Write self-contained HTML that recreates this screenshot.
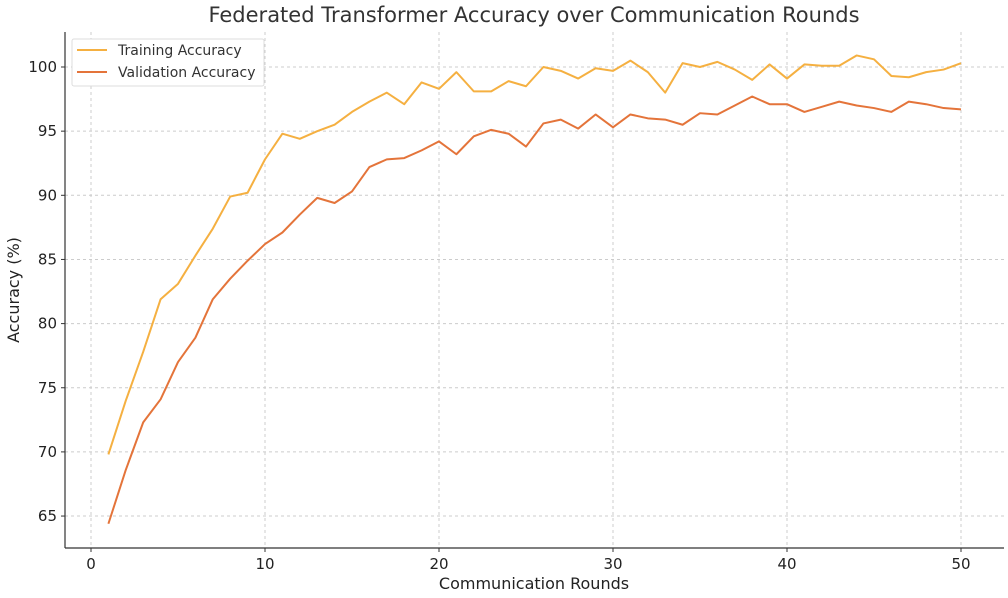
<!DOCTYPE html>
<html><head><meta charset="utf-8"><style>
body{margin:0;background:#fff;}
svg{display:block;font-family:"DejaVu Sans","Liberation Sans",sans-serif;}
</style></head><body>
<svg id="chart" width="1008" height="598" xmlns="http://www.w3.org/2000/svg">
<text x="534" y="22" text-anchor="middle" font-size="21" fill="#333">Federated Transformer Accuracy over Communication Rounds</text>
<g id="grid"></g>
<g id="axes"></g>
<g id="series"></g>
<text x="534" y="589" text-anchor="middle" font-size="16" fill="#222">Communication Rounds</text>
<text transform="translate(19,290) rotate(-90)" text-anchor="middle" font-size="16" fill="#222">Accuracy (%)</text>
<g>
<rect x="72" y="39" width="192" height="47" fill="#fff" stroke="#ddd" rx="2"/>
<line x1="77" y1="50" x2="107" y2="50" stroke="#F5B041" stroke-width="2"/>
<text x="118" y="55" font-size="14" fill="#333">Training Accuracy</text>
<line x1="77" y1="72" x2="107" y2="72" stroke="#E4743A" stroke-width="2"/>
<text x="118" y="77" font-size="14" fill="#333">Validation Accuracy</text>
</g>
</svg>
<script>
const rounds = Array.from({length:50},(_,i)=>i+1);
const training = [69.8,74.0,77.8,81.9,83.1,85.3,87.4,89.9,90.2,92.8,94.8,94.4,95.0,95.5,96.5,97.3,98.0,97.1,98.8,98.3,99.6,98.1,98.1,98.9,98.5,100.0,99.7,99.1,99.9,99.7,100.5,99.6,98.0,100.3,100.0,100.4,99.8,99.0,100.2,99.1,100.2,100.1,100.1,100.9,100.6,99.3,99.2,99.6,99.8,100.3];
const validation = [64.4,68.6,72.3,74.1,77.0,78.9,81.9,83.5,84.9,86.2,87.1,88.5,89.8,89.4,90.3,92.2,92.8,92.9,93.5,94.2,93.2,94.6,95.1,94.8,93.8,95.6,95.9,95.2,96.3,95.3,96.3,96.0,95.9,95.5,96.4,96.3,97.0,97.7,97.1,97.1,96.5,96.9,97.3,97.0,96.8,96.5,97.3,97.1,96.8,96.7];
const xTicks = [0,10,20,30,40,50];
const yTicks = [65,70,75,80,85,90,95,100];

const L=65,R=1004,T=32,B=548;
const xs=v=>91+(v-0)*17.4;
const ys=v=>67+(100-v)*12.83;
const NS="http://www.w3.org/2000/svg";
function mk(tag,attrs,parent){const e=document.createElementNS(NS,tag);for(const k in attrs)e.setAttribute(k,attrs[k]);parent.appendChild(e);return e;}
const grid=document.getElementById('grid'),axes=document.getElementById('axes'),series=document.getElementById('series');
xTicks.forEach(t=>{
  const g=mk('line',{x1:xs(t),x2:xs(t),y1:T,y2:B,stroke:'#ccc','stroke-dasharray':'3,3','stroke-width':1},grid);
  
  
  const tk=mk('line',{x1:xs(t),x2:xs(t),y1:B,y2:B+4,stroke:'#333'},axes);
  
  
  const tx=mk('text',{x:xs(t),y:B+21,'text-anchor':'middle','font-size':15,fill:'#222'},axes);
  tx.textContent=t;
  
  
});
yTicks.forEach(t=>{
  const g=mk('line',{x1:L,x2:R,y1:ys(t),y2:ys(t),stroke:'#ccc','stroke-dasharray':'3,3','stroke-width':1},grid);
  
  
  const tk=mk('line',{x1:L-4,x2:L,y1:ys(t),y2:ys(t),stroke:'#333'},axes);
  
  
  const tx=mk('text',{x:L-8,y:ys(t)+5,'text-anchor':'end','font-size':15,fill:'#222'},axes);
  tx.textContent=t;
  
  
});
const ax1=mk('line',{x1:L,x2:L,y1:T,y2:B,stroke:'#333','stroke-width':1.2},axes);


const ax2=mk('line',{x1:L,x2:R,y1:B,y2:B,stroke:'#333','stroke-width':1.2},axes);


function line(vals,color,name){
  const p=mk('polyline',{points:vals.map((v,i)=>xs(rounds[i])+','+ys(v)).join(' '),fill:'none',stroke:color,'stroke-width':2,'stroke-linejoin':'round'},series);
  
  
}
line(training,'#F5B041','training-accuracy-line');
line(validation,'#E4743A','validation-accuracy-line');
</script>
</body></html>
